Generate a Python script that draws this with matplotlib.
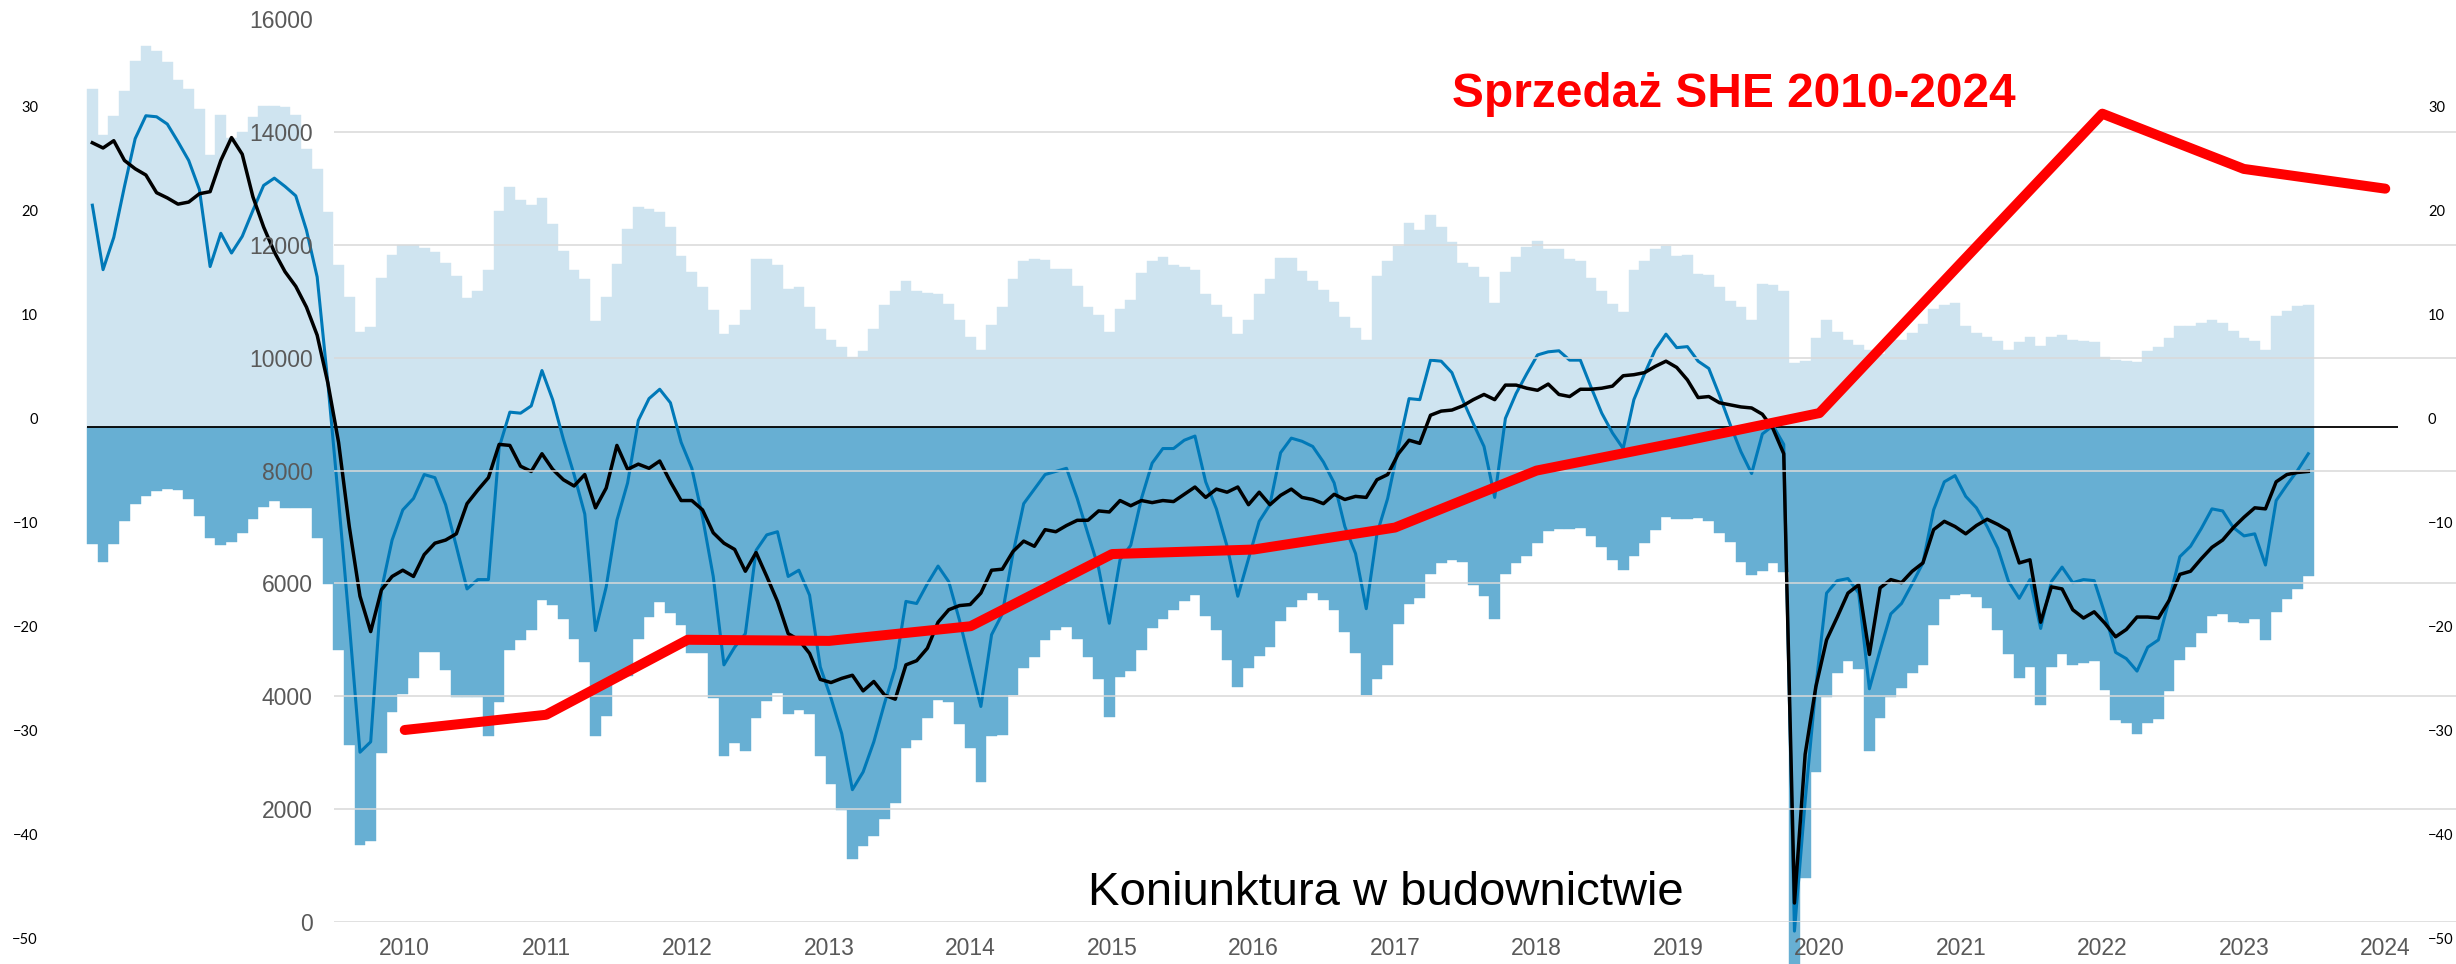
import matplotlib
matplotlib.use("Agg")
import matplotlib.pyplot as plt

# Koniunktura w budownictwie - dane miesięczne od 01.2007
pozytywne = [32.5, 28.0, 29.9, 32.3, 35.2, 36.6, 36.1, 35.1, 33.3, 32.5,
             30.5, 26.1, 30.0, 27.8, 28.3, 29.8, 30.8, 30.8, 30.7, 30.0,
             26.7, 24.8, 20.6, 15.5, 12.5, 9.1, 9.6, 14.3, 16.5, 17.5,
             17.5, 17.2, 16.8, 15.7, 14.5, 12.4, 13.0, 15.1, 20.7, 23.0,
             21.8, 21.3, 22.0, 19.5, 16.9, 15.1, 14.2, 10.2, 12.5, 15.6,
             19.0, 21.1, 20.9, 20.6, 19.2, 16.4, 14.9, 13.4, 11.2, 8.9,
             9.8, 11.2, 16.1, 16.1, 15.5, 13.2, 13.4, 11.5, 9.4, 8.3,
             7.7, 6.7, 7.3, 9.4, 11.7, 13.0, 14.0, 13.0, 12.9, 12.8,
             11.8, 10.3, 8.6, 7.4, 9.8, 11.5, 14.2, 15.9, 16.1, 16.0,
             15.2, 15.2, 13.5, 11.5, 10.7, 9.1, 11.3, 12.2, 14.8, 15.9,
             16.3, 15.5, 15.4, 15.1, 12.8, 11.7, 10.5, 8.9, 10.3, 12.8,
             14.2, 16.2, 16.2, 15.0, 14.0, 13.1, 12.0, 10.5, 9.5, 8.3,
             14.5, 15.9, 17.4, 19.6, 18.9, 20.4, 19.2, 17.8, 15.7, 15.4,
             14.4, 11.9, 14.9, 16.3, 17.3, 17.9, 17.1, 17.1, 16.1, 15.9,
             14.3, 13.0, 11.8, 11.0, 15.1, 15.9, 17.1, 17.4, 16.4, 16.5,
             14.7, 14.6, 13.4, 12.1, 11.5, 10.3, 13.7, 13.6, 13.0, 6.1,
             6.3, 8.5, 10.3, 9.1, 8.3, 7.9, 7.4, 7.0, 8.3, 8.3,
             9.0, 9.9, 11.3, 11.7, 11.9, 9.7, 9.0, 8.6, 8.2, 7.4,
             8.1, 8.6, 7.8, 8.6, 8.8, 8.3, 8.2, 8.1, 6.7, 6.4,
             6.3, 6.2, 7.3, 7.7, 8.5, 9.7, 9.7, 10.0, 10.3, 10.0,
             9.2, 8.5, 8.2, 7.4, 10.6, 11.1, 11.6, 11.7]

negatywne = [-11.3, -13.0, -11.3, -9.1, -7.4, -6.7, -6.2, -6.0, -6.1, -7.0,
             -8.6, -10.7, -11.4, -11.1, -10.2, -8.9, -7.7, -7.1, -7.8, -7.8,
             -7.8, -10.7, -15.1, -21.5, -30.6, -40.2, -39.8, -31.4, -27.4, -25.7,
             -24.2, -21.7, -21.7, -23.4, -26.0, -26.0, -26.0, -29.7, -26.5, -21.5,
             -20.5, -19.5, -16.7, -17.1, -18.5, -20.4, -22.6, -29.7, -27.8, -24.4,
             -24.0, -20.4, -18.3, -16.9, -17.9, -19.1, -21.8, -21.8, -26.1, -31.7,
             -30.4, -31.2, -28.0, -26.4, -25.6, -27.6, -27.2, -27.6, -31.7, -34.4,
             -36.9, -41.6, -40.3, -39.4, -37.7, -36.2, -30.9, -30.1, -28.0, -26.3,
             -26.5, -28.6, -30.9, -34.2, -29.7, -29.6, -25.8, -23.2, -22.1, -20.5,
             -19.5, -19.3, -20.4, -22.1, -24.3, -27.9, -24.1, -23.5, -21.5, -19.4,
             -18.5, -17.6, -16.8, -16.2, -18.2, -19.5, -22.4, -25.0, -23.2, -22.0,
             -21.2, -18.7, -17.3, -16.7, -16.0, -16.7, -17.6, -19.7, -21.8, -25.8,
             -24.3, -22.9, -19.0, -17.0, -16.5, -14.2, -13.1, -12.8, -13.0, -15.2,
             -16.3, -18.5, -14.2, -13.1, -12.4, -11.2, -10.0, -9.8, -9.8, -9.7,
             -10.5, -11.6, -12.8, -13.8, -12.4, -11.2, -9.9, -8.7, -8.9, -8.9,
             -8.8, -9.1, -10.2, -11.1, -13.0, -14.3, -13.9, -13.1, -14.0, -52.0,
             -43.4, -33.2, -26.0, -23.7, -22.5, -23.3, -31.2, -28.0, -26.0, -25.1,
             -23.7, -22.9, -19.1, -16.6, -16.2, -16.1, -16.4, -17.4, -19.5, -21.9,
             -24.2, -23.1, -26.8, -23.1, -21.9, -22.9, -22.7, -22.5, -25.3, -28.2,
             -28.5, -29.5, -28.5, -28.1, -25.4, -22.4, -21.2, -19.8, -18.2, -18.0,
             -18.8, -18.9, -18.5, -20.5, -17.8, -16.6, -15.6, -14.4]

# wskaźnik ogólny (niebieska linia)
wskaznik = [21.3, 15.1, 18.2, 23.1, 27.7, 29.9, 29.8, 29.1, 27.4, 25.6,
            22.8, 15.4, 18.6, 16.7, 18.3, 20.8, 23.2, 23.9, 23.1, 22.2,
            18.9, 14.4, 4.2, -7.1, -18.9, -31.3, -30.3, -15.7, -10.9, -8.0,
            -6.9, -4.6, -4.9, -7.5, -11.5, -15.6, -14.7, -14.7, -2.0, 1.4,
            1.3, 2.0, 5.4, 2.6, -1.2, -4.6, -8.4, -19.6, -15.4, -9.0,
            -5.4, 0.6, 2.7, 3.6, 2.3, -1.5, -4.0, -8.7, -14.4, -22.9,
            -21.2, -19.9, -11.9, -10.4, -10.1, -14.4, -13.8, -16.2, -23.1, -26.1,
            -29.5, -34.9, -33.2, -30.3, -26.6, -23.2, -16.8, -17.0, -15.1, -13.4,
            -14.9, -18.6, -22.8, -26.9, -20.0, -18.0, -12.2, -7.4, -6.0, -4.6,
            -4.3, -4.0, -6.9, -10.3, -13.6, -18.9, -12.8, -11.4, -6.9, -3.5,
            -2.1, -2.1, -1.3, -0.9, -5.3, -7.9, -11.5, -16.3, -12.7, -9.1,
            -7.5, -2.5, -1.1, -1.4, -1.9, -3.4, -5.4, -9.6, -12.2, -17.5,
            -10.3, -6.9, -2.0, 2.7, 2.6, 6.4, 6.3, 5.2, 2.6, 0.3,
            -1.9, -6.8, 0.8, 3.2, 5.1, 6.9, 7.2, 7.3, 6.4, 6.4,
            3.8, 1.3, -0.6, -2.1, 2.6, 5.1, 7.4, 8.9, 7.6, 7.7,
            6.3, 5.6, 3.0, 0.2, -2.4, -4.5, -0.7, 0.1, -1.7, -48.5,
            -36.0, -25.0, -16.0, -14.8, -14.6, -16.0, -25.2, -21.5, -18.0, -17.0,
            -15.1, -13.1, -8.0, -5.3, -4.7, -6.7, -7.8, -9.6, -11.7, -14.9,
            -16.5, -14.7, -19.4, -14.9, -13.5, -15.0, -14.7, -14.8, -18.0, -21.7,
            -22.3, -23.5, -21.2, -20.5, -16.7, -12.5, -11.5, -9.8, -7.9, -8.1,
            -9.7, -10.5, -10.3, -13.3, -7.1, -5.6, -4.2, -2.6]

# wskaźnik wyrównany (czarna linia)
trend = [27.3, 26.8, 27.5, 25.6, 24.8, 24.2, 22.5, 22.0, 21.4, 21.6,
         22.4, 22.6, 25.6, 27.8, 26.2, 22.1, 19.2, 16.8, 14.9, 13.5,
         11.5, 8.8, 4.2, -1.5, -9.6, -16.3, -19.7, -15.7, -14.4, -13.8,
         -14.4, -12.3, -11.2, -10.9, -10.3, -7.4, -6.1, -4.9, -1.7, -1.8,
         -3.8, -4.3, -2.6, -4.1, -5.1, -5.7, -4.6, -7.8, -5.9, -1.8,
         -4.1, -3.6, -4.0, -3.3, -5.3, -7.1, -7.1, -8.0, -10.2, -11.2,
         -11.8, -13.9, -12.1, -14.4, -16.8, -19.9, -20.5, -21.8, -24.3, -24.6,
         -24.2, -23.9, -25.4, -24.5, -25.8, -26.2, -22.9, -22.5, -21.3, -18.8,
         -17.6, -17.2, -17.1, -16.0, -13.8, -13.7, -12.0, -11.0, -11.5, -9.9,
         -10.1, -9.5, -9.0, -9.0, -8.1, -8.2, -7.1, -7.6, -7.1, -7.3,
         -7.1, -7.2, -6.5, -5.8, -6.8, -6.0, -6.3, -5.8, -7.5, -6.3,
         -7.5, -6.6, -6.0, -6.8, -7.0, -7.4, -6.5, -7.0, -6.7, -6.8,
         -5.1, -4.6, -2.6, -1.3, -1.6, 1.1, 1.5, 1.6, 2.0, 2.6,
         3.1, 2.6, 4.0, 4.0, 3.7, 3.5, 4.1, 3.1, 2.9, 3.6,
         3.6, 3.7, 3.9, 4.9, 5.0, 5.2, 5.8, 6.3, 5.7, 4.5,
         2.8, 2.9, 2.3, 2.1, 1.9, 1.8, 1.2, -0.2, -2.6, -45.8,
         -31.5, -25.0, -20.5, -18.3, -16.0, -15.2, -21.9, -15.5, -14.7, -15.0,
         -13.9, -13.1, -9.9, -9.1, -9.6, -10.3, -9.5, -8.9, -9.4, -10.0,
         -13.1, -12.8, -18.8, -15.4, -15.6, -17.6, -18.4, -17.8, -18.9, -20.2,
         -19.5, -18.3, -18.3, -18.4, -16.7, -14.2, -13.9, -12.7, -11.6, -10.9,
         -9.7, -8.7, -7.8, -7.9, -5.3, -4.6, -4.4, -4.3]

# Sprzedaż SHE
lata = list(range(2010, 2025))
sprzedaz = [3400, 3670, 5000, 4980, 5240, 6520, 6600, 6990, 8000, 8500,
            9020, 11680, 14330, 13350, 13000]

plt.rcParams["font.family"] = ["Liberation Sans", "DejaVu Sans"]

W, H = 2456, 964
fig = plt.figure(figsize=(W / 100, H / 100), dpi=100)

# oś koniunktury - słupki i linie (piksele: x0 = lewy brzeg 1. słupka, krok = szerokość słupka)
x0, krok = 87, 10.705
y0, skala = 426.7, 10.4
ax = fig.add_axes([28 / W, 0, (2438 - 28) / W, 1])
ax.set_xlim((28 - x0) / krok, (2438 - x0) / krok)
ax.set_ylim((y0 - H) / skala, y0 / skala)

mies = list(range(len(pozytywne)))
ax.bar(mies, pozytywne, width=1, align="edge", color="#CFE4F0",
       edgecolor="#CFE4F0", linewidth=0.3)
ax.bar(mies, negatywne, width=1, align="edge", color="#67AFD3",
       edgecolor="#67AFD3", linewidth=0.3)
ax.hlines(0, 0, (2398 - x0) / krok, color="black", lw=1.3)
srodki = [m + 0.5 for m in mies]
ax.plot(srodki, wskaznik, color="#0079B8", lw=2.2)
ax.plot(srodki, trend, color="black", lw=2.5)

ax.set_xticks([])
ax.set_yticks(range(-50, 31, 10))
ax.tick_params(axis="y", length=0, pad=-7.2, labelleft=True, labelright=True,
               labelsize=10.5)
for lab in ax.get_yticklabels():
    lab.set_fontfamily("Lato")
    lab.set_verticalalignment("bottom")
for s in ax.spines.values():
    s.set_visible(False)

# oś sprzedaży
ax2 = fig.add_axes([334 / W, (H - 921.7) / H, (W - 334) / W, 902.2 / H])
ax2.patch.set_visible(False)
ax2.set_xlim(-0.5, len(lata) - 0.5)
ax2.set_ylim(0, 16000)
ax2.set_yticks(range(0, 16001, 2000))
ax2.set_xticks(range(len(lata)), [str(r) for r in lata])
ax2.yaxis.grid(True, color="#D9D9D9", lw=1.1)
ax2.set_axisbelow(True)
ax2.tick_params(length=0, labelsize=16.5, labelcolor="#595959")
ax2.tick_params(axis="y", pad=15.3)
ax2.tick_params(axis="x", pad=11)
for s in ax2.spines.values():
    s.set_visible(False)
ax2.plot(range(len(lata)), sprzedaz, color="red", lw=7.2,
         solid_capstyle="round", solid_joinstyle="round")

fig.text(1734 / W, 1 - 107.3 / H, "Sprzedaż SHE 2010-2024", color="red",
         fontsize=34.5, fontweight="bold", ha="center", va="baseline")
fig.text(1386 / W, 1 - 905 / H, "Koniunktura w budownictwie", fontsize=34,
         ha="center", va="baseline")

fig.savefig("out.png", dpi=100)
